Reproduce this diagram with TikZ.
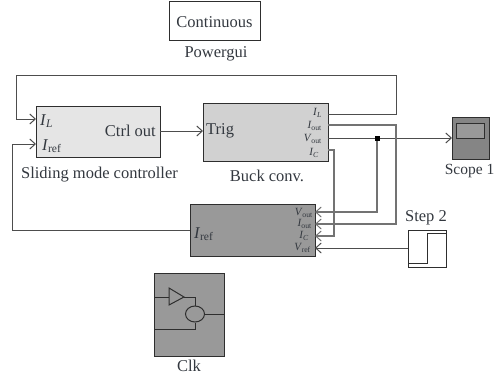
\documentclass[tikz,border=0pt]{standalone}
\usepackage{fontspec}
\setmainfont{Liberation Serif}
\usetikzlibrary{arrows.meta,calc,shapes.geometric}
\definecolor{ink}{HTML}{2E2E2E}
\definecolor{txt}{HTML}{33383F}
\newcommand{\Sb}[2]{\textit{#1}\kern-0.3pt\textsubscript{#2}}
\tikzset{
  blockbox/.style={draw=ink,line width=1pt,anchor=north west,inner sep=0pt,outer sep=0pt},
  lbl/.style={text=txt,inner sep=0pt,font=\fontsize{16.5}{18}\selectfont},
  port/.style={text=txt,inner sep=0pt,font=\fontsize{11}{12}\selectfont},
  inlbl/.style={text=txt,inner sep=0pt,font=\fontsize{16.5}{18}\selectfont},
  wire/.style={draw=ink!85,line width=1pt},
  gwire/.style={draw=black!55,line width=1.2pt},
  arr/.style={-{Straight Barb[length=5.5pt,width=10pt,line width=1pt]}}
}
\begin{document}
\begin{tikzpicture}[x=1pt,y=-1pt]
\useasboundingbox (0,0) rectangle (494,377);
% blocks
\node[blockbox,minimum width=91pt,minimum height=39pt] (cont) at (169,2) {};
\node[inlbl] (contt) at (214.5,22) {Continuous};
\node[lbl] (pg) at (216,54) {Powergui};
\node[blockbox,fill=black!10,minimum width=124pt,minimum height=51pt] (smc) at (36,106) {};
\node[blockbox,fill=black!18,minimum width=125pt,minimum height=58pt] (buck) at (203,103) {};
\node[blockbox,fill=black!40,minimum width=125pt,minimum height=52pt] (ref) at (190,204) {};
\node[blockbox,fill=black!40,minimum width=70pt,minimum height=83pt] (clk) at (154,273) {};
\node[blockbox,fill=black!48,minimum width=37pt,minimum height=42pt] (scope) at (452,117) {};
\node[draw=ink,line width=1pt,fill=black!40,anchor=north west,inner sep=0pt,minimum width=28pt,minimum height=15pt] (screen) at (456,123) {};
\node[blockbox,fill=white,minimum width=38pt,minimum height=37pt] (step) at (408,230) {};
% labels
\node[inlbl,anchor=west] (il) at (40,121) {\Sb{I}{\textit{L}}};
\node[inlbl,anchor=west] (ir) at (42,146) {\Sb{I}{ref}};
\node[inlbl,anchor=east] (co) at (156,131) {Ctrl out};
\node[lbl] (smct) at (99.5,175) {Sliding mode controller};
\node[inlbl,anchor=west] (tr) at (206,131) {Trig};
\node[lbl] (buckt) at (267,176) {Buck conv.};
\node[port,anchor=east] (b1) at (322,113) {\Sb{I}{\textit{L}}};
\node[port,anchor=east] (b2) at (322,126) {\Sb{I}{out}};
\node[port,anchor=east] (b3) at (322,139) {\Sb{V}{out}};
\node[port,anchor=east] (b4) at (319,153) {\Sb{I}{\textit{C}}};
\node[inlbl,anchor=west] (rl) at (194,234) {\Sb{I}{ref}};
\node[port,anchor=east] (r1) at (313,213) {\Sb{V}{out}};
\node[port,anchor=east] (r2) at (312,224) {\Sb{I}{out}};
\node[port,anchor=east] (r3) at (309,236) {\Sb{I}{\textit{C}}};
\node[port,anchor=east] (r4) at (311,248) {\Sb{V}{ref}};
\node[lbl,font=\fontsize{15.5}{17}\selectfont] (scopet) at (469.5,171) {Scope 1};
\node[lbl] (stept) at (426,218) {Step 2};
\node[lbl] (clkt) at (189,366) {Clk};
% ports
\coordinate (smcA) at (36,119);
\coordinate (smcB) at (36,144);
\coordinate (smcC) at (160,131);
\coordinate (buckT) at (203,131);
\coordinate (bIL) at (328,114);
\coordinate (bIo) at (328,125);
\coordinate (bVo) at (328,138);
\coordinate (bIC) at (328,150);
\coordinate (rVo) at (315,212);
\coordinate (rIo) at (315,224);
\coordinate (rIC) at (315,236);
\coordinate (rVr) at (315,248);
\coordinate (refL) at (190,230);
\coordinate (scopeIn) at (452,138);
\coordinate (stepOut) at (408,248);
\coordinate (junc) at (377,138);
% wires
\draw[wire,arr] (bIL) -- (396,114) -- (396,76) -- (16,76) -- (16,119) -- (smcA);
\draw[wire,arr] (refL) -- (12,230) -- (12,144) -- (smcB);
\draw[wire,arr] (smcC) -- (buckT);
\draw[wire,arr] (bVo) -- (scopeIn);
\draw[gwire,arr] (junc) -- (377,212) -- (rVo);
\draw[gwire,arr] (bIo) -- (396,125) -- (396,224) -- (rIo);
\draw[gwire,arr] (bIC) -- (334,150) -- (334,236) -- (rIC);
\draw[wire,arr] (stepOut) -- (rVr);
\fill[black] ($(junc)+(-2.5,-2.5)$) rectangle ($(junc)+(2.5,2.5)$);
% step glyph
\draw[ink,line width=1pt] (408,263) -- (427,263) -- (427,233) -- (446,233);
% clk glyph
\node[draw=ink,line width=1pt,ellipse,inner sep=0pt,minimum width=19pt,minimum height=16pt] (xor) at (195,314) {};
\coordinate (t1) at (169,288);
\coordinate (t2) at (169,305);
\coordinate (t3) at (184,297);
\draw[ink,line width=1pt] (t1) -- (t3) -- (t2) -- cycle;
\draw[ink,line width=1pt] (154,297) -- (169,297);
\draw[ink,line width=1pt] (t3) -- (195,297) -- (xor.north);
\draw[ink,line width=1pt] (xor.south) -- (195,329) -- (154,329);
\draw[ink,line width=1pt] (xor.east) -- (224,314);
\end{tikzpicture}
\end{document}
